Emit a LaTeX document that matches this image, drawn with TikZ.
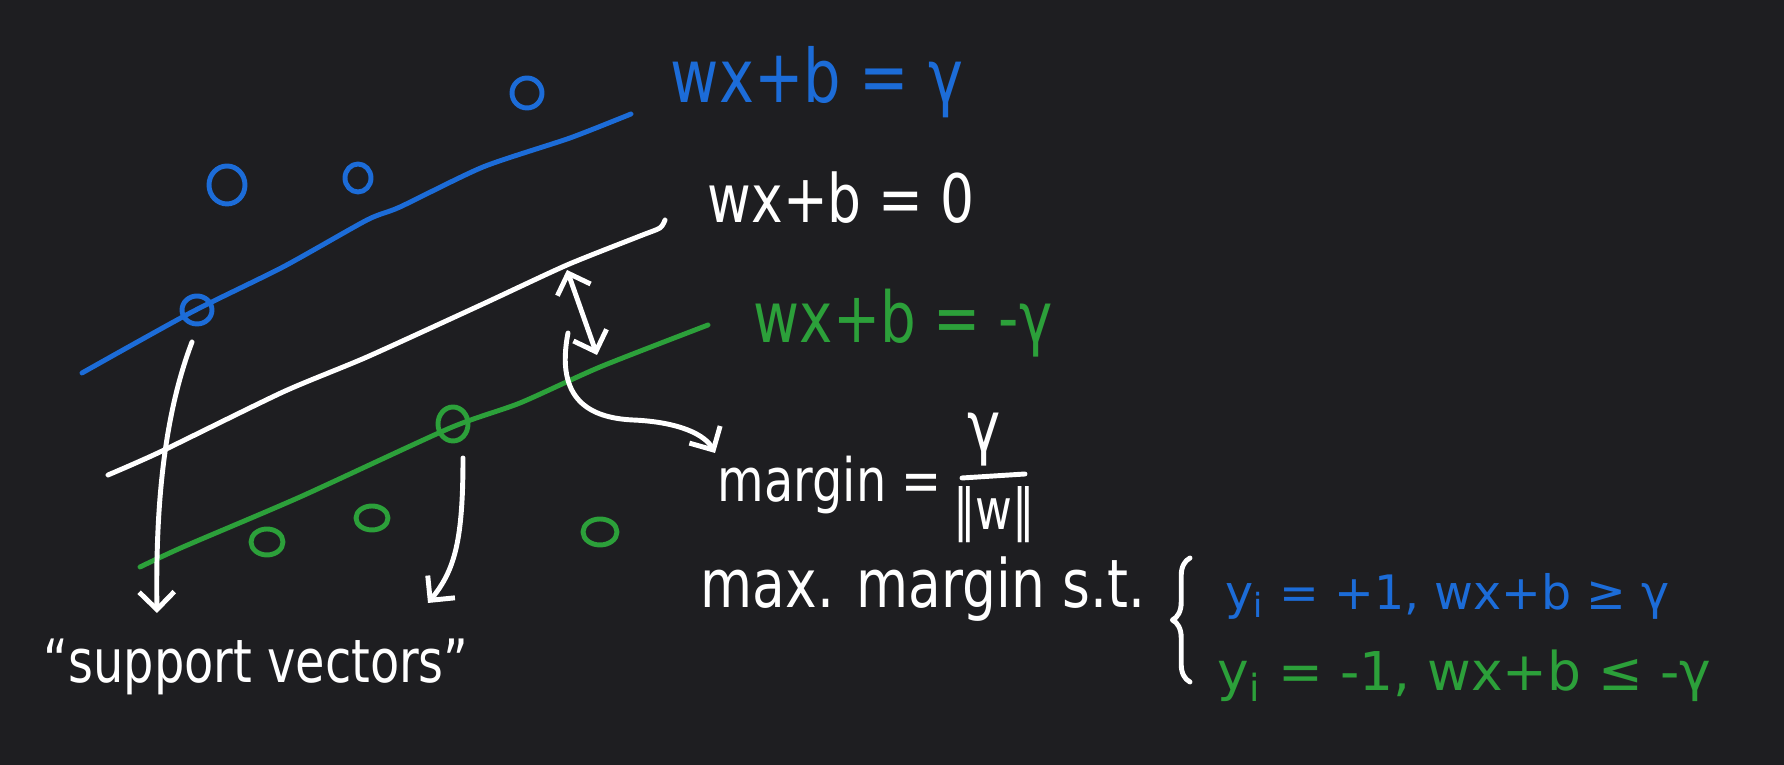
\documentclass[tikz,border=0pt]{standalone}
\usepackage{fontspec}
\setmainfont{DejaVu Sans}[FakeStretch=0.8]
\newfontfamily\widehand{DejaVu Sans}
\usetikzlibrary{arrows.meta,decorations.pathreplacing}
\definecolor{board}{RGB}{30,30,33}
\definecolor{penblue}{RGB}{28,108,216}
\definecolor{pengreen}{RGB}{44,160,58}
\tikzset{
  pen/.style={line width=1.4pt, line cap=round, line join=round},
  hand/.style={font=\fontsize{#1}{#1}\selectfont, inner sep=0pt, text=white, anchor=base west},
  hand/.default=20,
  widehand/.style={font=\widehand\fontsize{#1}{#1}\selectfont, inner sep=0pt, anchor=base west},
}
\begin{document}
\begin{tikzpicture}[x=0.01cm, y=-0.01cm, >={Straight Barb[length=5pt,width=10pt]}]
  \fill[board] (0,0) rectangle (1784,765);
  % the three lines
  \draw[pen, penblue] plot[smooth, tension=0.4] coordinates {(82,373) (190,313) (283,267) (367,220) (400,207) (483,167) (570,138) (631,114)};
  \draw[pen, white] plot[smooth, tension=0.4] coordinates {(108,475) (160,452) (283,392) (367,357) (483,304) (567,265) (640,236) (660,228) (665,220)};
  \draw[pen, pengreen] plot[smooth, tension=0.4] coordinates {(140,567) (183,547) (300,497) (450,428) (520,403) (600,367) (708,325)};
  % points
  \foreach \x/\y/\rx/\ry in {527/93/15/15, 227/185/18/19, 358/178/13/14, 197/310/15/14}
    \draw[pen, penblue] (\x,\y) ellipse [x radius=\rx*0.01cm, y radius=\ry*0.01cm];
  \foreach \x/\y/\rx/\ry in {267/542/16/13, 372/518/16/12, 600/532/17/13, 453/424/15/17}
    \draw[pen, pengreen] (\x,\y) ellipse [x radius=\rx*0.01cm, y radius=\ry*0.01cm];
  % labels of the lines
  \node[hand=21, text=penblue] (eqpos) at (670,103) {wx+b = γ};
  \node[hand=19] (eqzero) at (707,223) {wx+b = 0};
  \node[hand=20, text=pengreen] (eqneg) at (753,343) {wx+b = -γ};
  % margin
  \coordinate (onzero) at (567,270);
  \coordinate (onneg) at (597,355);
  \draw[pen, white, <->] (onzero) -- (onneg);
  \coordinate (bendstart) at (568,333);
  \node[hand=17] (margin) at (717,502) {margin =};
  \node[hand=20, anchor=base] (gam) at (984,452) {γ};
  \node[hand=16, anchor=base] (norm) at (994,530) {‖w‖};
  \draw[pen, white] (962,478) -- (1025,474);
  \draw[pen, white, ->] (bendstart) .. controls (555,400) and (590,418) .. (633,420)
    .. controls (680,422) and (705,435) .. (715,453);
  % support vectors
  \coordinate (svblue) at (192,342);
  \coordinate (svgreen) at (463,458);
  \node[hand=17] (svlabel) at (43,683) {“support vectors”};
  \draw[pen, white, ->] (svblue) .. controls (170,400) and (155,480) .. (157,613);
  \draw[pen, white, ->] (svgreen) .. controls (463,540) and (455,570) .. (428,603);
  % optimisation problem
  \node[hand=19] (maxmargin) at (700,608) {max. margin s.t.};
  \draw[pen, white, decorate, decoration={brace, amplitude=5pt}] (1190,682) -- (1190,558);
  \node[widehand=13.5, text=penblue] (cpos) at (1225,610) {y\textsubscript{i} = +1, wx+b ≥ γ};
  \node[widehand=15.2, text=pengreen] (cneg) at (1217,691) {y\textsubscript{i} = -1, wx+b ≤ -γ};
\end{tikzpicture}
\end{document}
